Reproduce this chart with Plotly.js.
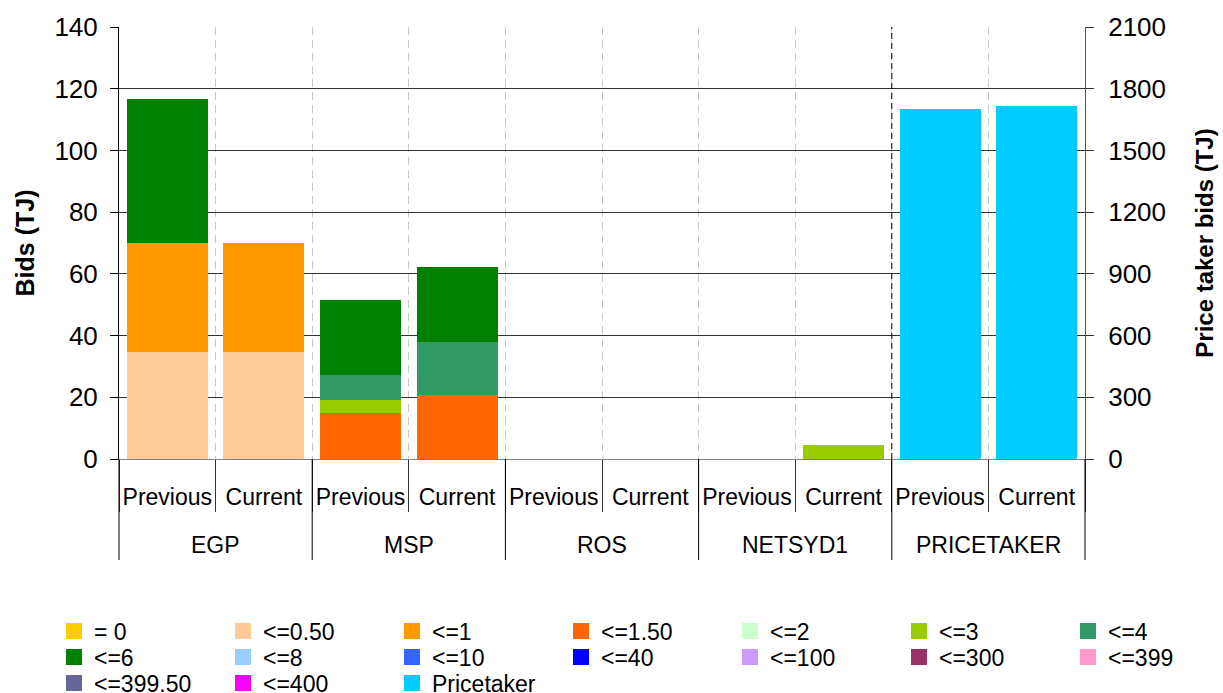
<!DOCTYPE html>
<html><head><meta charset="utf-8">
<script src="https://cdn.plot.ly/plotly-3.0.1.min.js"></script>
<style>html,body{margin:0;padding:0;background:#fff}#chart{width:1223px;height:693px}</style>
</head><body><div id="chart"></div>
<script>
// ---------- data ----------
const groups = ['EGP', 'MSP', 'ROS', 'NETSYD1', 'PRICETAKER'];
const periods = ['Previous', 'Current'];
const binNames = ['= 0', '<=0.50', '<=1', '<=1.50', '<=2', '<=3', '<=4',
                  '<=6', '<=8', '<=10', '<=40', '<=100', '<=300', '<=399',
                  '<=399.50', '<=400', 'Pricetaker'];
const binColors = ['#FFCC00', '#FFCC99', '#FF9900', '#FF6600', '#CCFFCC', '#99CC00', '#339966',
                   '#008000', '#99CCFF', '#3366FF', '#0000FF', '#CC99FF', '#993366', '#FF99CC',
                   '#666699', '#FF00FF', '#00CCFF'];
// order: EGP Prev, EGP Cur, MSP Prev, MSP Cur, ROS Prev, ROS Cur, NETSYD1 Prev, NETSYD1 Cur, PRICETAKER Prev, PRICETAKER Cur
const bidEq0    = [0, 0, 0, 0, 0, 0, 0, 0, 0, 0];
const bidLe050  = [34.7, 34.7, 0, 0, 0, 0, 0, 0, 0, 0];
const bidLe1    = [35.3, 35.3, 0, 0, 0, 0, 0, 0, 0, 0];
const bidLe150  = [0, 0, 14.9, 20.7, 0, 0, 0, 0, 0, 0];
const bidLe2    = [0, 0, 0, 0, 0, 0, 0, 0, 0, 0];
const bidLe3    = [0, 0, 4.2, 0, 0, 0, 0, 4.5, 0, 0];
const bidLe4    = [0, 0, 8.1, 17.2, 0, 0, 0, 0, 0, 0];
const bidLe6    = [46.7, 0, 24.3, 24.3, 0, 0, 0, 0, 0, 0];
const bidLe8    = [0, 0, 0, 0, 0, 0, 0, 0, 0, 0];
const bidLe10   = [0, 0, 0, 0, 0, 0, 0, 0, 0, 0];
const bidLe40   = [0, 0, 0, 0, 0, 0, 0, 0, 0, 0];
const bidLe100  = [0, 0, 0, 0, 0, 0, 0, 0, 0, 0];
const bidLe300  = [0, 0, 0, 0, 0, 0, 0, 0, 0, 0];
const bidLe399  = [0, 0, 0, 0, 0, 0, 0, 0, 0, 0];
const bidLe3995 = [0, 0, 0, 0, 0, 0, 0, 0, 0, 0];
const bidLe400  = [0, 0, 0, 0, 0, 0, 0, 0, 0, 0];
const priceTaker = [0, 0, 0, 0, 0, 0, 0, 0, 1700, 1715];
const binValues = [bidEq0, bidLe050, bidLe1, bidLe150, bidLe2, bidLe3, bidLe4, bidLe6,
                   bidLe8, bidLe10, bidLe40, bidLe100, bidLe300, bidLe399, bidLe3995, bidLe400, priceTaker];
const leftTicks = [0, 20, 40, 60, 80, 100, 120, 140];
const rightTicks = [0, 300, 600, 900, 1200, 1500, 1800, 2100];

// ---------- build ----------
const FONT = 'Liberation Sans, Arial, sans-serif';
const catIds = [], catText = [];
groups.forEach(g => periods.forEach(p => { catIds.push(g + ' ' + p); catText.push(p); }));
const nCat = catIds.length;

// legend layout: 7 entries per row, each row split into two legends (4 + 3)
const perRow = 7, perPart = 4, colStep = 169;
const rowsY = [631, 657, 683];
const legendIdFor = i => {
  const row = Math.floor(i / perRow), part = (i % perRow) < perPart ? 0 : 1;
  const n = row * 2 + part;
  return n === 0 ? 'legend' : 'legend' + (n + 1);
};

const traces = [];
binNames.forEach((name, i) => {
  traces.push({
    type: 'bar', name: name, x: catIds, y: binValues[i],
    yaxis: name === 'Pricetaker' ? 'y2' : 'y',
    marker: {color: binColors[i], line: {width: 0}},
    showlegend: false, hoverinfo: 'skip'
  });
});
binNames.forEach((name, i) => {
  traces.push({
    type: 'scatter', mode: 'markers', name: name, x: [null], y: [null],
    marker: {symbol: 'square', size: 16, color: binColors[i], line: {width: 0}},
    legend: legendIdFor(i), showlegend: true, hoverinfo: 'skip'
  });
});

// category boundaries between groups
const groupBounds = [0];
let idx = 0;
groups.forEach(() => { idx += periods.length; groupBounds.push(idx); });

const shapes = groupBounds.map(b => ({
  type: 'line', xref: 'paper', yref: 'paper', x0: b / nCat, x1: b / nCat,
  y0: 0, y1: -101 / 432, line: {color: '#000', width: 1}
}));
const ptIdx = catIds.indexOf('PRICETAKER Previous');
shapes.push({
  type: 'line', xref: 'paper', yref: 'paper', x0: ptIdx / nCat, x1: ptIdx / nCat,
  y0: 0, y1: 1, line: {color: '#000', width: 1, dash: '6px,4px'}
});

const annotations = groups.map((g, i) => ({
  text: g, xref: 'x', yref: 'paper', x: i * periods.length + (periods.length - 1) / 2,
  y: -86 / 432, yanchor: 'middle', xanchor: 'center', showarrow: false,
  font: {family: FONT, size: 23, color: '#000'}
}));

const legendBase = {
  orientation: 'h', xref: 'container', yref: 'container', xanchor: 'left', yanchor: 'middle',
  entrywidth: colStep - 45, entrywidthmode: 'pixels',
  font: {family: FONT, size: 23, color: '#000'}, bgcolor: 'rgba(0,0,0,0)', borderwidth: 0,
  itemclick: false, itemdoubleclick: false, tracegroupgap: 0, traceorder: 'normal'
};

const layout = {
  width: 1223, height: 693,
  margin: {l: 119, r: 138, t: 27, b: 234, pad: 0},
  paper_bgcolor: '#fff', plot_bgcolor: '#fff',
  barmode: 'stack', bargap: 0.16,
  font: {family: FONT, color: '#000'},
  hovermode: false,
  xaxis: {
    type: 'category', categoryorder: 'array', categoryarray: catIds,
    tickvals: catIds, ticktext: catText, tickson: 'boundaries', tickangle: 0,
    ticks: 'outside', ticklen: 52, tickcolor: '#333', tickwidth: 1,
    ticklabelstandoff: 17,
    tickfont: {family: FONT, size: 23, color: '#000'},
    showline: true, linecolor: '#808080', linewidth: 1,
    showgrid: true, gridcolor: '#c8c8c8', gridwidth: 1, griddash: '8px,5px',
    zeroline: false, fixedrange: true
  },
  yaxis: {
    range: [0, 140], tickvals: leftTicks, ticks: 'outside', ticklen: 8, tickcolor: '#000',
    tickfont: {family: FONT, size: 26, color: '#000'}, ticklabelstandoff: 7,
    showline: true, linecolor: '#000', linewidth: 1,
    showgrid: true, gridcolor: '#333', gridwidth: 1, zeroline: false, fixedrange: true,
    title: {text: '<b>Bids (TJ)</b>', font: {family: FONT, size: 25, color: '#000'}, standoff: 12}
  },
  yaxis2: {
    overlaying: 'y', side: 'right', anchor: 'x',
    range: [0, 2100], tickvals: rightTicks, ticks: 'outside', ticklen: 8, tickcolor: '#333',
    tickfont: {family: FONT, size: 26, color: '#000'}, ticklabelstandoff: 9,
    showline: true, linecolor: '#555', linewidth: 1,
    showgrid: false, zeroline: false, fixedrange: true,
    title: {text: '<b>Price taker bids (TJ)</b>', font: {family: FONT, size: 24, color: '#000'}, standoff: 31}
  },
  shapes: shapes,
  annotations: annotations
};
for (let row = 0; row < rowsY.length; row++) {
  for (let part = 0; part < 2; part++) {
    const n = row * 2 + part;
    const id = n === 0 ? 'legend' : 'legend' + (n + 1);
    layout[id] = Object.assign({}, legendBase, {
      x: (54 + part * perPart * colStep) / 1223,
      y: 1 - rowsY[row] / 693
    });
  }
}

Plotly.newPlot('chart', traces, layout, {displayModeBar: false, staticPlot: true});
</script>
</body></html>
